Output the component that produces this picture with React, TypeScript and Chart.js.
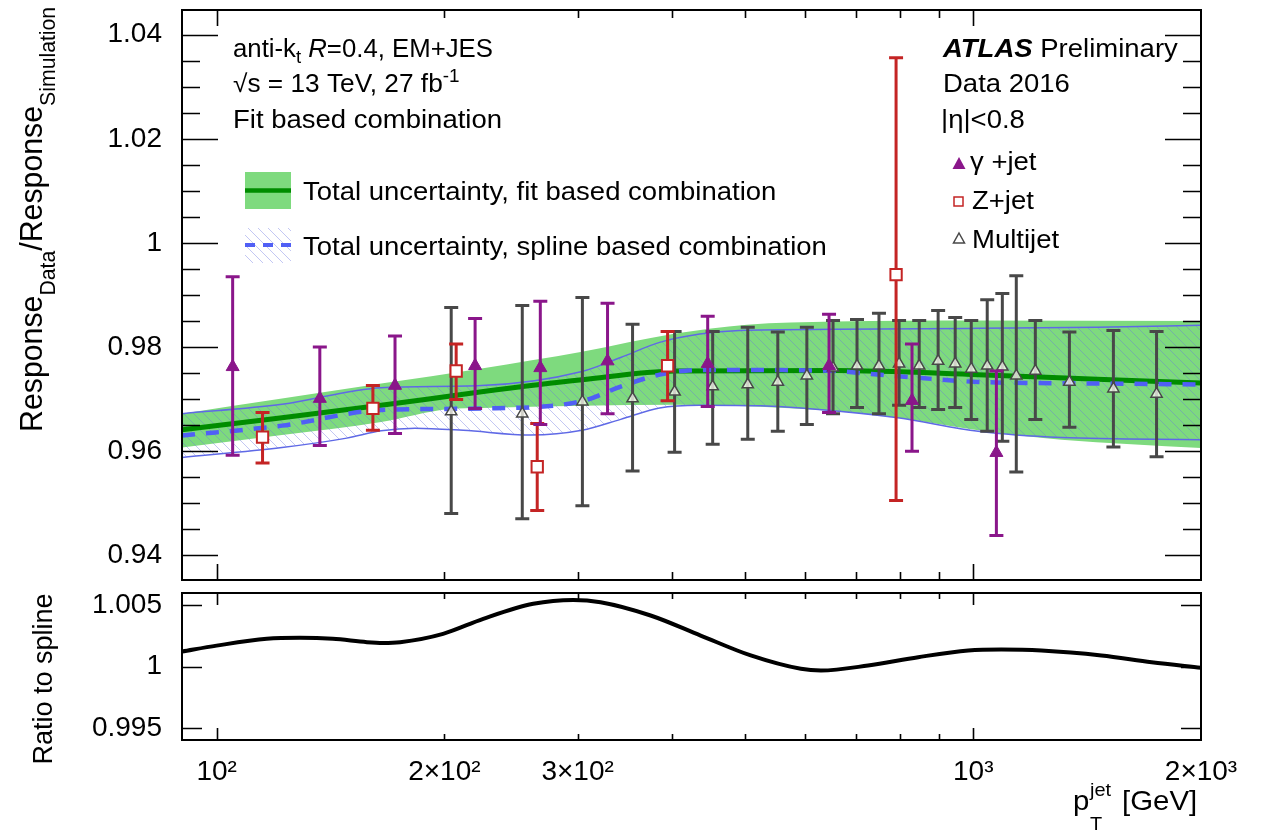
import React, { useEffect, useRef } from "react";
import { Chart, registerables } from "chart.js";

Chart.register(...registerables);

const FONT = "'Liberation Sans', Arial, Helvetica, sans-serif";

// ---------------- data ----------------
// gamma+jet
const gammaPt = [105, 136.9, 172.1, 219.6, 267.8, 328.6, 445.7, 644.8, 830, 1073];
const gammaVal = [0.9762, 0.9701, 0.9726, 0.9764, 0.976, 0.9773, 0.9768, 0.9764, 0.9697, 0.9597];
const gammaUp = [0.9935, 0.98, 0.9821, 0.9855, 0.9888, 0.9884, 0.9859, 0.9863, 0.9806, 0.9754];
const gammaDn = [0.9592, 0.9611, 0.9634, 0.9682, 0.9651, 0.9672, 0.9686, 0.9674, 0.96, 0.9438];

// Z+jet
const zPt = [115, 160.9, 207.3, 265.3, 394.5, 790.7];
const zVal = [0.9627, 0.9682, 0.9754, 0.957, 0.9764, 0.9939];
const zUp = [0.9674, 0.9726, 0.9806, 0.9653, 0.983, 1.0356];
const zDn = [0.9577, 0.964, 0.9699, 0.9486, 0.9697, 0.9505];

// Multijet
const mjPt = [204.2, 253.5, 304.4, 354.6, 403, 452.5, 503.5, 551.7, 602.7, 652.7, 702.1, 750.6, 798, 848.4, 898.7, 946.6, 994, 1043.5, 1092.6, 1140, 1208, 1340, 1532, 1747];
const mjVal = [0.9676, 0.9672, 0.9695, 0.9701, 0.9714, 0.9724, 0.9728, 0.9733, 0.9745, 0.976, 0.9764, 0.9764, 0.9768, 0.9764, 0.9773, 0.9768, 0.9758, 0.9764, 0.9762, 0.9745, 0.9754, 0.9733, 0.972, 0.971];
const mjUp = [0.9876, 0.988, 0.9895, 0.9844, 0.983, 0.983, 0.9838, 0.9829, 0.9838, 0.9851, 0.9853, 0.9865, 0.9851, 0.9851, 0.987, 0.9857, 0.9851, 0.9891, 0.9903, 0.9937, 0.9851, 0.9829, 0.9832, 0.983];
const mjDn = [0.948, 0.947, 0.9495, 0.9562, 0.9598, 0.9613, 0.9623, 0.9638, 0.9651, 0.9672, 0.9684, 0.9672, 0.9688, 0.9684, 0.968, 0.9684, 0.9661, 0.9638, 0.9619, 0.956, 0.9661, 0.9646, 0.9608, 0.9589];

// fit based combination (central + band)
const fitPt = [90, 122, 165, 224, 304, 404, 656, 1015, 1459, 2000];
const fitVal = [0.9641, 0.9664, 0.9688, 0.9714, 0.9737, 0.9754, 0.9755, 0.9747, 0.9738, 0.9731];
const fitUpPt = [90, 122, 165, 224, 304, 404, 502, 656, 1015, 2000];
const fitUpVal = [0.9672, 0.9701, 0.973, 0.9759, 0.9791, 0.9826, 0.9843, 0.9849, 0.9851, 0.985];
const fitDnPt = [90, 122, 165, 203, 224, 304, 404, 656, 796, 1015, 1308, 2000];
const fitDnVal = [0.9607, 0.9631, 0.9656, 0.9681, 0.9683, 0.9687, 0.9689, 0.9677, 0.9664, 0.964, 0.9622, 0.9606];

// spline based combination (central + band)
const splPt = [90, 122, 165, 224, 304, 342, 385, 435, 625, 795, 1015, 1459, 2000];
const splVal = [0.963, 0.9649, 0.9679, 0.9682, 0.9696, 0.9724, 0.9747, 0.9756, 0.9755, 0.9744, 0.9733, 0.973, 0.9728];
const splUpPt = [90, 122, 165, 224, 304, 342, 385, 435, 491, 656, 1015, 1459, 2000];
const splUpVal = [0.9672, 0.969, 0.9722, 0.9726, 0.9753, 0.978, 0.9809, 0.9825, 0.9832, 0.9834, 0.9836, 0.9838, 0.9842];
const splDnPt = [90, 122, 148.6, 165, 182.9, 211.8, 259.8, 304, 342, 385, 435, 524, 625, 795, 1015, 1308, 2000];
const splDnVal = [0.9588, 0.9607, 0.9625, 0.9639, 0.9644, 0.964, 0.9631, 0.964, 0.9661, 0.9683, 0.9688, 0.9687, 0.968, 0.9664, 0.9638, 0.9626, 0.9622];

// ratio fit / spline
const ratioPt = [90, 100, 116.5, 128.8, 142.4, 158, 165.9, 174.8, 199.2, 225.1, 262.1, 296.1, 321.7, 374.6, 436.2, 508.1, 591.8, 629.1, 726.1, 845.8, 985, 1089, 1231, 1477, 1721, 2000];
const ratioVal = [1.00122, 1.0017, 1.00225, 1.00233, 1.00225, 1.00198, 1.00192, 1.00198, 1.00266, 1.00388, 1.0051, 1.00542, 1.00523, 1.00415, 1.00252, 1.0009, 0.99981, 0.99967, 1.00008, 1.00076, 1.0013, 1.00138, 1.0013, 1.0009, 1.00035, 0.9999];

// ticks
const yTicksTop = [0.94, 0.96, 0.98, 1, 1.02, 1.04];
const yTickLabelsTop = ["0.94", "0.96", "0.98", "1", "1.02", "1.04"];
const yMinorTop = [0.945, 0.95, 0.955, 0.965, 0.97, 0.975, 0.985, 0.99, 0.995, 1.005, 1.01, 1.015, 1.025, 1.03, 1.035];
const yTicksBottom = [0.995, 1, 1.005];
const yTickLabelsBottom = ["0.995", "1", "1.005"];
const xTickVals = [100, 200, 300, 1000, 2000];
const xTickLabels = ["10\u00B2", "2\u00D710\u00B2", "3\u00D710\u00B2", "10\u00B3", "2\u00D710\u00B3"];
const xMajor = [100, 1000];
const xMinor = [200, 300, 400, 500, 600, 700, 800, 900];

// ---------------- styles ----------------
const GREEN_FILL = "rgb(126, 218, 126)";
const GREEN_LINE = "rgb(0, 140, 0)";
const BLUE_THIN = "rgb(95, 105, 230)";
const BLUE_DASH = "rgb(80, 95, 245)";
const PURPLE = "rgb(138, 22, 138)";
const RED = "rgb(196, 36, 36)";
const GREY = "rgb(72, 72, 72)";

type Seg = { t: string; size: number; style?: string; dy?: number; color?: string };

function drawRich(ctx: CanvasRenderingContext2D, x: number, y: number, segs: Seg[], sx = 1, rot = 0, sy = 1) {
  ctx.save();
  ctx.translate(x, y);
  if (rot) ctx.rotate(rot);
  ctx.scale(sx, sy);
  ctx.textAlign = "left";
  ctx.textBaseline = "alphabetic";
  let cx = 0;
  for (const s of segs) {
    ctx.font = `${s.style || ""} ${s.size}px ${FONT}`;
    ctx.fillStyle = s.color || "#000";
    ctx.fillText(s.t, cx, s.dy || 0);
    cx += ctx.measureText(s.t).width;
  }
  ctx.restore();
}

function richWidth(ctx: CanvasRenderingContext2D, segs: Seg[]) {
  ctx.save();
  let w = 0;
  for (const s of segs) {
    ctx.font = `${s.style || ""} ${s.size}px ${FONT}`;
    w += ctx.measureText(s.t).width;
  }
  ctx.restore();
  return w;
}

function makeHatch(): CanvasPattern | string {
  const c = document.createElement("canvas");
  c.width = 10;
  c.height = 10;
  const g = c.getContext("2d");
  if (!g) return "rgba(120,130,230,0.2)";
  g.strokeStyle = "rgba(105,115,225,0.4)";
  g.lineWidth = 1;
  g.beginPath();
  g.moveTo(0, 0);
  g.lineTo(10, 10);
  g.moveTo(-1, 9);
  g.lineTo(1, 11);
  g.moveTo(9, -1);
  g.lineTo(11, 1);
  g.stroke();
  return g.createPattern(c, "repeat") || "rgba(120,130,230,0.2)";
}

const xy = (xs: number[], ys: number[]) => xs.map((x, i) => ({ x, y: ys[i] }));

function frameTicksPlugin(cfg: {
  xMajLen: number; xMinLen: number; yMaj: number[]; yMin: number[]; yMajLen: number; yMinLen: number;
}) {
  return {
    id: "frameTicks",
    afterDraw(chart: any) {
      const { ctx, chartArea: a, scales } = chart;
      const xs = scales.x;
      const ys = scales.y;
      ctx.save();
      ctx.strokeStyle = "#000";
      ctx.lineWidth = 1.6;
      ctx.beginPath();
      const xt = (v: number, len: number) => {
        const p = Math.round(xs.getPixelForValue(v)) + 0.5;
        ctx.moveTo(p, a.bottom);
        ctx.lineTo(p, a.bottom - len);
        ctx.moveTo(p, a.top);
        ctx.lineTo(p, a.top + len);
      };
      const yt = (v: number, len: number) => {
        const p = Math.round(ys.getPixelForValue(v)) + 0.5;
        ctx.moveTo(a.left, p);
        ctx.lineTo(a.left + len, p);
        ctx.moveTo(a.right, p);
        ctx.lineTo(a.right - len, p);
      };
      xMajor.forEach((v) => xt(v, cfg.xMajLen));
      xMinor.forEach((v) => xt(v, cfg.xMinLen));
      cfg.yMaj.forEach((v) => yt(v, cfg.yMajLen));
      cfg.yMin.forEach((v) => yt(v, cfg.yMinLen));
      ctx.stroke();
      ctx.lineWidth = 2;
      ctx.strokeRect(a.left, a.top, a.right - a.left, a.bottom - a.top);
      ctx.restore();
    },
  };
}

const errorBarPlugin = {
  id: "errorBars",
  beforeDatasetDraw(chart: any, args: any) {
    const ds = chart.data.datasets[args.index] as any;
    if (!ds.errUp) return;
    const { ctx, scales } = chart;
    const ys = scales.y;
    ctx.save();
    ctx.strokeStyle = ds.errColor;
    ctx.lineWidth = 3;
    ctx.beginPath();
    args.meta.data.forEach((pt: any, i: number) => {
      const x = pt.x;
      const yu = ys.getPixelForValue(ds.errUp[i]);
      const yd = ys.getPixelForValue(ds.errDn[i]);
      ctx.moveTo(x, yu);
      ctx.lineTo(x, yd);
      ctx.moveTo(x - 7, yu);
      ctx.lineTo(x + 7, yu);
      ctx.moveTo(x - 7, yd);
      ctx.lineTo(x + 7, yd);
    });
    ctx.stroke();
    ctx.restore();
  },
};

function upperTextPlugin(hatch: CanvasPattern | string) {
  return {
    id: "upperText",
    afterDraw(chart: any) {
      const ctx: CanvasRenderingContext2D = chart.ctx;
      const S = 25;
      const SUB = 18;
      const sx = 1.1;
      drawRich(ctx, 233, 57, [
        { t: "anti-k", size: S },
        { t: "t", size: SUB, dy: 6 },
        { t: " ", size: S },
        { t: "R", size: S, style: "italic" },
        { t: "=0.4, EM+JES", size: S },
      ], 1.03);
      drawRich(ctx, 233, 92, [
        { t: "\u221As = 13 TeV, 27 fb", size: S },
        { t: "-1", size: SUB, dy: -10 },
      ], 1.05);
      drawRich(ctx, 233, 128, [{ t: "Fit based combination", size: S }], sx);

      drawRich(ctx, 943, 57, [
        { t: "ATLAS", size: S, style: "italic bold" },
        { t: " Preliminary", size: S },
      ], sx);
      drawRich(ctx, 943, 92, [{ t: "Data 2016", size: S }], sx);
      drawRich(ctx, 941, 128, [{ t: "|\u03B7|<0.8", size: S }], sx);

      // left legend
      ctx.save();
      ctx.fillStyle = GREEN_FILL;
      ctx.fillRect(245, 172, 46, 37);
      ctx.strokeStyle = GREEN_LINE;
      ctx.lineWidth = 4.5;
      ctx.beginPath();
      ctx.moveTo(245, 190.5);
      ctx.lineTo(291, 190.5);
      ctx.stroke();
      ctx.fillStyle = hatch as any;
      ctx.fillRect(245, 228, 46, 35);
      ctx.strokeStyle = BLUE_DASH;
      ctx.lineWidth = 4;
      ctx.setLineDash([10, 8]);
      ctx.beginPath();
      ctx.moveTo(245, 245);
      ctx.lineTo(291, 245);
      ctx.stroke();
      ctx.restore();
      drawRich(ctx, 303, 200, [{ t: "Total uncertainty, fit based combination", size: S }], sx);
      drawRich(ctx, 303, 255, [{ t: "Total uncertainty, spline based combination", size: S }], sx);

      // right legend
      ctx.save();
      ctx.fillStyle = PURPLE;
      ctx.beginPath();
      ctx.moveTo(959, 157);
      ctx.lineTo(965.5, 169);
      ctx.lineTo(952.5, 169);
      ctx.closePath();
      ctx.fill();
      ctx.strokeStyle = RED;
      ctx.lineWidth = 1.5;
      ctx.fillStyle = "#fff";
      ctx.fillRect(954, 197, 9, 9);
      ctx.strokeRect(954, 197, 9, 9);
      ctx.strokeStyle = GREY;
      ctx.beginPath();
      ctx.moveTo(959, 233);
      ctx.lineTo(964.5, 243);
      ctx.lineTo(953.5, 243);
      ctx.closePath();
      ctx.stroke();
      ctx.restore();
      drawRich(ctx, 970, 170, [{ t: "\u03B3", size: S }, { t: " +jet", size: S }], sx);
      drawRich(ctx, 972, 209, [{ t: "Z+jet", size: S }], sx);
      drawRich(ctx, 972, 248, [{ t: "Multijet", size: S }], sx);

      // y title
      drawRich(ctx, 42, 432, [
        { t: "Response", size: 30 },
        { t: "Data", size: 21, dy: 12 },
        { t: "/Response", size: 30 },
        { t: "Simulation", size: 21, dy: 12 },
      ], 1.01, -Math.PI / 2, 1.05);
    },
  };
}

const lowerTextPlugin = {
  id: "lowerText",
  afterDraw(chart: any) {
    const ctx: CanvasRenderingContext2D = chart.ctx;
    const segs: Seg[] = [{ t: "Ratio to spline", size: 27 }];
    const w = richWidth(ctx, segs);
    drawRich(ctx, 52, 89 + w / 2, segs, 1, -Math.PI / 2, 1.05);
    drawRich(ctx, 1073, 220, [{ t: "p", size: 28 }], 1.05);
    drawRich(ctx, 1090, 206, [{ t: "jet", size: 19 }], 1.05);
    drawRich(ctx, 1090, 240, [{ t: "T", size: 19 }], 1.05);
    drawRich(ctx, 1122, 220, [{ t: "[GeV]", size: 28 }], 1.05);
  },
};

export default function App() {
  const topRef = useRef<HTMLCanvasElement>(null);
  const botRef = useRef<HTMLCanvasElement>(null);

  useEffect(() => {
    Chart.defaults.font.family = FONT;
    const hatch = makeHatch();
    const lineBase = { pointRadius: 0, cubicInterpolationMode: "monotone" as const, tension: 0.4 };
    const markerBase = { showLine: false, pointHoverRadius: 0 };

    const c1 = new Chart(topRef.current as HTMLCanvasElement, {
      type: "line",
      data: {
        datasets: [
          { ...lineBase, data: xy(fitDnPt, fitDnVal), borderWidth: 0, borderColor: "transparent", fill: false, order: 10 },
          { ...lineBase, data: xy(fitUpPt, fitUpVal), borderWidth: 0, borderColor: "transparent", backgroundColor: GREEN_FILL, fill: "-1", order: 9 },
          { ...lineBase, data: xy(splDnPt, splDnVal), borderWidth: 1.5, borderColor: BLUE_THIN, fill: false, order: 8 },
          { ...lineBase, data: xy(splUpPt, splUpVal), borderWidth: 1.5, borderColor: BLUE_THIN, backgroundColor: hatch as any, fill: "-1", order: 7 },
          { ...lineBase, data: xy(fitPt, fitVal), borderWidth: 5, borderColor: GREEN_LINE, fill: false, order: 6 },
          { ...lineBase, data: xy(splPt, splVal), borderWidth: 4.5, borderColor: BLUE_DASH, borderDash: [13, 11], fill: false, order: 5 },
          {
            ...markerBase, data: xy(mjPt, mjVal), pointStyle: "triangle", pointRadius: 6.5,
            pointBackgroundColor: "rgba(255,255,245,0.75)", pointBorderColor: GREY, pointBorderWidth: 1.5,
            errUp: mjUp, errDn: mjDn, errColor: GREY, order: 3,
          } as any,
          {
            ...markerBase, data: xy(zPt, zVal), pointStyle: "rect", pointRadius: 8,
            pointBackgroundColor: "#fff", pointBorderColor: RED, pointBorderWidth: 2,
            errUp: zUp, errDn: zDn, errColor: RED, order: 2,
          } as any,
          {
            ...markerBase, data: xy(gammaPt, gammaVal), pointStyle: "triangle", pointRadius: 7.5,
            pointBackgroundColor: PURPLE, pointBorderColor: PURPLE, pointBorderWidth: 1,
            errUp: gammaUp, errDn: gammaDn, errColor: PURPLE, order: 1,
          } as any,
        ],
      },
      options: {
        animation: false,
        responsive: false,
        devicePixelRatio: 1,
        events: [],
        layout: { padding: { top: 8, right: 68, bottom: 7, left: 0 } },
        plugins: { legend: { display: false }, tooltip: { enabled: false } },
        scales: {
          x: { type: "logarithmic", min: 90, max: 2000, display: false },
          y: {
            type: "linear",
            min: 0.93524,
            max: 1.04476,
            position: "left",
            grid: { display: false },
            border: { display: false },
            afterBuildTicks: (s: any) => {
              s.ticks = yTicksTop.map((v) => ({ value: v }));
            },
            afterFit: (s: any) => {
              s.width = 182;
              s.paddingTop = 0;
              s.paddingBottom = 0;
            },
            ticks: {
              font: { size: 28, family: FONT },
              color: "#000",
              padding: 12,
              callback: (v: any) => yTickLabelsTop[yTicksTop.indexOf(Number(v))] ?? "",
            },
          },
        },
      },
      plugins: [
        errorBarPlugin,
        frameTicksPlugin({ xMajLen: 16, xMinLen: 8, yMaj: yTicksTop, yMin: yMinorTop, yMajLen: 36, yMinLen: 18 }),
        upperTextPlugin(hatch),
      ],
    } as any);

    const c2 = new Chart(botRef.current as HTMLCanvasElement, {
      type: "line",
      data: {
        datasets: [
          { ...lineBase, data: xy(ratioPt, ratioVal), borderWidth: 4, borderColor: "#000", fill: false },
        ],
      },
      options: {
        animation: false,
        responsive: false,
        devicePixelRatio: 1,
        events: [],
        layout: { padding: { top: 3, right: 68, bottom: 0, left: 0 } },
        plugins: { legend: { display: false }, tooltip: { enabled: false } },
        scales: {
          x: {
            type: "logarithmic",
            min: 90,
            max: 2000,
            grid: { display: false },
            border: { display: false },
            afterBuildTicks: (s: any) => {
              s.ticks = xTickVals.map((v) => ({ value: v }));
            },
            afterFit: (s: any) => {
              s.height = 91;
              s.paddingLeft = 0;
              s.paddingRight = 0;
            },
            ticks: {
              font: { size: 28, family: FONT },
              color: "#000",
              padding: 7,
              maxRotation: 0,
              autoSkip: false,
              callback: (v: any) => xTickLabels[xTickVals.indexOf(Number(v))] ?? "",
            },
          },
          y: {
            type: "linear",
            min: 0.99402,
            max: 1.00598,
            position: "left",
            grid: { display: false },
            border: { display: false },
            afterBuildTicks: (s: any) => {
              s.ticks = yTicksBottom.map((v) => ({ value: v }));
            },
            afterFit: (s: any) => {
              s.width = 182;
              s.paddingTop = 0;
              s.paddingBottom = 0;
            },
            ticks: {
              font: { size: 28, family: FONT },
              color: "#000",
              padding: 12,
              callback: (v: any) => yTickLabelsBottom[yTicksBottom.indexOf(Number(v))] ?? "",
            },
          },
        },
      },
      plugins: [
        frameTicksPlugin({ xMajLen: 12, xMinLen: 6, yMaj: yTicksBottom, yMin: [], yMajLen: 20, yMinLen: 0 }),
        lowerTextPlugin,
      ],
    } as any);

    return () => {
      c1.destroy();
      c2.destroy();
    };
  }, []);

  return (
    <div style={{ position: "absolute", left: 0, top: 0, width: 1269, height: 831, background: "#fff", overflow: "hidden" }}>
      <canvas ref={topRef} width={1269} height={590} style={{ position: "absolute", left: 0, top: 0, width: 1269, height: 590 }} />
      <canvas ref={botRef} width={1269} height={241} style={{ position: "absolute", left: 0, top: 590, width: 1269, height: 241 }} />
    </div>
  );
}
